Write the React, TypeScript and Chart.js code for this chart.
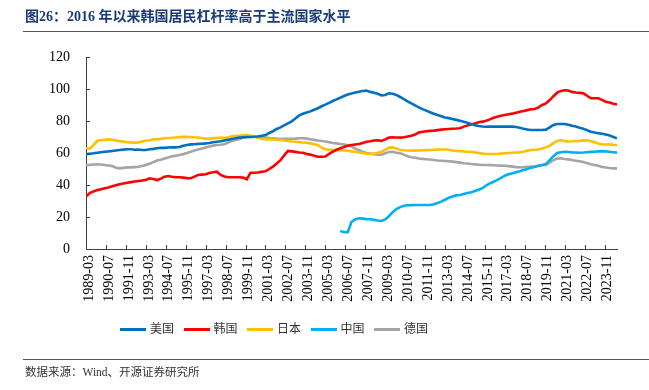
import React, { useEffect, useRef } from 'react';
import { Chart, registerables } from 'chart.js';

Chart.register(...registerables);

// ---------- data (quarterly, 1989-03 ... 2024-09) ----------
const MONTHS_PER_POINT = 3;
const MONTHS_PER_TICK = 16;
const X_MAX_MONTH = 426;

const xTickLabels = [
  '1989-03', '1990-07', '1991-11', '1993-03', '1994-07', '1995-11', '1997-03',
  '1998-07', '1999-11', '2001-03', '2002-07', '2003-11', '2005-03', '2006-07',
  '2007-11', '2009-03', '2010-07', '2011-11', '2013-03', '2014-07', '2015-11',
  '2017-03', '2018-07', '2019-11', '2021-03', '2022-07', '2023-11',
];

const yTickStep = 20;
const yMin = 0;
const yMax = 120;

const usa = [
  59.2, 59.5, 59.8, 60.2,
  60.5, 60.8, 61.0, 61.3,
  61.6, 61.9, 62.1, 62.3,
  62.3, 62.0, 62.2, 61.9,
  61.9, 62.3, 62.6, 63.0,
  63.3, 63.2, 63.4, 63.5,
  63.5, 63.8, 64.5, 65.0,
  65.4, 65.5, 65.7, 65.8,
  66.0, 66.3, 66.7, 67.0,
  67.3, 67.8, 68.3, 68.8,
  69.2, 69.6, 69.8, 70.0,
  70.0, 70.2, 70.3, 70.7,
  71.2, 72.5, 73.6, 75.0,
  76.0, 77.3, 78.5, 79.8,
  81.5, 83.5, 84.5, 85.3,
  86.0, 87.0, 88.0, 89.2,
  90.2, 91.3, 92.5, 93.5,
  94.5, 95.6, 96.5, 97.2,
  97.8, 98.3, 98.8, 99.0,
  98.2, 97.7, 97.0, 96.0,
  96.3, 97.3, 97.0, 96.3,
  95.0, 93.6, 92.2, 91.0,
  89.8, 88.5, 87.4, 86.5,
  85.5, 84.5, 83.8, 83.0,
  82.2, 81.8, 81.3, 80.7,
  80.2, 79.6, 78.9, 78.2,
  77.4, 76.9, 76.6, 76.4,
  76.5, 76.5, 76.5, 76.5,
  76.5, 76.5, 76.5, 76.2,
  75.8, 75.2, 74.7, 74.4,
  74.4, 74.4, 74.4, 74.6,
  76.0, 77.5, 78.1, 78.1,
  78.1, 77.6, 77.0, 76.5,
  75.8, 75.2, 74.3, 73.3,
  72.8, 72.4, 72.0, 71.6,
  71.0, 70.0, 69.2,
];

const korea = [
  32.7, 35.0, 36.0, 36.8,
  37.3, 37.9, 38.5, 39.2,
  39.8, 40.4, 41.0, 41.4,
  41.8, 42.2, 42.5, 42.8,
  43.2, 44.2, 43.8, 43.1,
  44.0, 45.2, 45.6, 45.2,
  44.9, 44.8, 44.6, 44.3,
  44.2, 45.2, 46.3, 46.5,
  46.7, 47.5, 48.0, 48.3,
  46.3, 45.3, 44.8, 44.8,
  44.8, 44.8, 44.6, 43.6,
  47.7, 47.7, 47.8, 48.3,
  48.6, 50.0, 51.5, 53.5,
  55.5, 58.5, 61.3, 61.0,
  60.7, 60.3, 60.2, 59.4,
  59.0, 58.3, 57.7, 57.7,
  57.8, 59.5, 60.8, 62.0,
  63.0, 63.8, 64.5, 65.0,
  65.3, 65.6, 66.3, 67.0,
  67.3, 67.8, 68.0, 67.6,
  68.5, 69.6, 69.8, 69.7,
  69.6, 69.8, 70.3, 70.8,
  71.5, 72.8, 73.3, 73.6,
  73.8, 74.0, 74.3, 74.6,
  74.8, 75.0, 75.2, 75.3,
  75.5, 76.5, 77.2, 77.8,
  78.5, 79.2, 79.6, 80.2,
  81.0, 82.0, 82.7, 83.3,
  83.8, 84.2, 84.6, 85.2,
  85.8, 86.3, 86.8, 87.3,
  87.5, 88.5, 90.0, 91.0,
  93.1, 95.5, 97.7, 98.8,
  99.2, 99.0, 98.2, 97.8,
  97.6, 97.3, 95.8, 94.2,
  94.2, 94.2, 93.2, 92.0,
  91.5, 90.8, 90.4,
];

const japan = [
  63.0, 62.7, 65.0, 67.5,
  68.1, 68.2, 68.5, 68.2,
  67.8, 67.4, 67.1, 66.8,
  66.6, 66.5, 66.6, 67.2,
  67.7, 68.0, 68.5, 68.6,
  68.8, 69.2, 69.4, 69.5,
  69.7, 69.9, 70.1, 70.2,
  70.0, 69.8, 69.7, 69.4,
  69.0, 68.8, 69.3, 69.4,
  69.6, 69.3, 69.8, 70.4,
  70.6, 70.8, 71.0, 71.2,
  70.8, 70.2, 69.6, 68.8,
  68.6, 68.5, 68.4, 68.3,
  68.1, 67.8, 67.5, 67.2,
  67.0, 66.8, 66.6, 66.4,
  66.0, 65.5, 65.0, 63.3,
  62.3, 62.1, 61.9, 61.8,
  61.7, 61.6, 61.4, 61.0,
  60.8, 60.3, 60.0, 59.6,
  59.4, 59.6, 60.2, 60.8,
  62.0, 63.2, 63.5, 62.8,
  62.0, 61.7, 61.6, 61.5,
  61.5, 61.6, 61.7, 61.8,
  61.9, 62.0, 62.1, 62.2,
  62.2, 62.0, 61.6, 61.3,
  61.1, 61.0, 60.8, 60.8,
  60.4, 60.0, 59.6, 59.4,
  59.4, 59.4, 59.4, 59.6,
  59.8, 60.0, 60.2, 60.3,
  60.4, 60.8, 61.5, 61.9,
  62.0, 62.2, 62.8, 63.5,
  64.5, 66.2, 67.5, 68.1,
  67.4, 67.2, 67.3, 67.5,
  67.6, 67.9, 68.0, 67.3,
  66.8, 66.0, 65.3, 65.3,
  65.4, 65.1, 65.0,
];

// China series begins in 2006-03 (quarter index 68)
const chinaStartQuarter = 68;
const china = [
  11.2, 10.5, 10.5, 17.0,
  18.5, 19.2, 19.0, 18.7,
  18.6, 18.2, 17.8, 17.5,
  18.5, 20.5, 23.0, 25.0,
  26.2, 27.0, 27.3, 27.4,
  27.5, 27.5, 27.5, 27.5,
  27.5, 28.0, 28.8, 29.6,
  30.8, 32.0, 32.8, 33.5,
  33.8, 34.4, 35.0, 35.5,
  36.2, 37.0, 38.0, 39.7,
  41.0, 42.0, 43.2, 44.5,
  45.8, 46.7, 47.3, 48.0,
  48.6, 49.3, 50.0, 50.8,
  51.3, 52.0, 52.5, 53.2,
  55.5, 58.0, 60.0, 60.5,
  60.8, 60.6, 60.4, 60.3,
  60.2, 60.3, 60.5, 60.7,
  60.8, 61.0, 61.2, 61.0,
  60.8, 60.5, 60.2,
];

const germany = [
  52.5, 52.6, 52.8, 52.9,
  52.8, 52.5, 52.2, 51.8,
  50.8, 50.4, 50.7, 51.0,
  51.0, 51.2, 51.4, 51.9,
  52.5, 53.3, 54.3, 55.3,
  55.8, 56.5, 57.2, 57.9,
  58.3, 58.8, 59.3, 60.0,
  60.8, 61.5, 62.2, 62.8,
  63.4, 64.0, 64.6, 65.0,
  65.2, 65.5, 66.5, 67.5,
  68.2, 68.8, 69.5, 69.8,
  70.0, 70.2, 70.3, 70.0,
  69.7, 69.4, 69.2, 69.0,
  68.9, 68.8, 68.8, 68.9,
  69.0, 69.2, 69.2, 69.0,
  68.6, 68.2, 67.8, 67.5,
  67.2, 66.8, 66.3, 66.0,
  65.6, 65.3, 64.8, 64.0,
  62.8, 61.8, 60.8, 60.0,
  59.6, 59.2, 58.9, 58.9,
  59.8, 60.6, 60.8, 60.2,
  59.9, 59.0, 58.0, 57.4,
  57.0, 56.6, 56.3, 56.1,
  55.9, 55.6, 55.3, 55.2,
  55.0, 54.8, 54.6, 54.3,
  54.0, 53.6, 53.4, 53.1,
  52.9, 52.7, 52.5, 52.5,
  52.4, 52.3, 52.2, 52.1,
  52.0, 51.8, 51.5, 51.2,
  51.1, 51.2, 51.4, 51.5,
  51.7, 52.0, 52.3, 52.5,
  54.0, 55.5, 56.5, 56.7,
  56.3, 56.0, 55.6, 55.2,
  54.8, 54.4, 53.8, 53.0,
  52.5, 52.0, 51.3, 50.9,
  50.6, 50.4, 50.4,
];

const seriesNames = ['美国', '韩国', '日本', '中国', '德国'];
const seriesColors = ['#0070C0', '#FF0000', '#FFC000', '#00B0F0', '#A5A5A5'];

const titleText = '图26：2016 年以来韩国居民杠杆率高于主流国家水平';
const sourceText = '数据来源：Wind、开源证券研究所';

// ---------- helpers ----------
const toPoints = (values: (number | null)[], startQuarter = 0) =>
  values.map((v, i) => ({ x: (startQuarter + i) * MONTHS_PER_POINT, y: v }));

const serifFont = '"Liberation Serif", "Times New Roman", serif';
const mixedFont = '"Liberation Serif", "Noto Sans CJK SC", serif';

const insideTicks = {
  id: 'insideTicks',
  afterDraw(chart: any) {
    const { ctx, scales } = chart;
    const x = scales.x;
    const y = scales.y;
    ctx.save();
    ctx.strokeStyle = '#404040';
    ctx.lineWidth = 1;
    ctx.beginPath();
    x.ticks.forEach((t: any) => {
      const px = Math.round(x.getPixelForValue(t.value)) + 0.5;
      ctx.moveTo(px, x.top);
      ctx.lineTo(px, x.top - 4);
    });
    y.ticks.forEach((t: any) => {
      const py = Math.round(y.getPixelForValue(t.value)) + 0.5;
      ctx.moveTo(y.right, py);
      ctx.lineTo(y.right + 4, py);
    });
    ctx.stroke();
    ctx.restore();
  },
};

export default function App() {
  const canvasRef = useRef<HTMLCanvasElement | null>(null);

  useEffect(() => {
    if (!canvasRef.current) return;
    const allSeries = [
      toPoints(usa),
      toPoints(korea),
      toPoints(japan),
      toPoints(china, chinaStartQuarter),
      toPoints(germany),
    ];
    const chart = new Chart(canvasRef.current, {
      type: 'line',
      data: {
        datasets: allSeries.map((pts, i) => ({
          label: seriesNames[i],
          data: pts,
          borderColor: seriesColors[i],
          backgroundColor: seriesColors[i],
          borderWidth: 2.6,
          pointRadius: 0,
          tension: 0,
          fill: false,
        })),
      },
      options: {
        responsive: false,
        animation: false,
        devicePixelRatio: 1,
        layout: { padding: { left: 0, right: 32, top: 57, bottom: 0 } },
        plugins: {
          legend: { display: false },
          tooltip: { enabled: false },
          title: { display: false },
        },
        scales: {
          x: {
            type: 'linear',
            min: 0,
            max: X_MAX_MONTH,
            afterBuildTicks: (scale: any) => {
              scale.ticks = xTickLabels.map((_, k) => ({ value: k * MONTHS_PER_TICK }));
            },
            afterFit: (scale: any) => {
              scale.height = 141;
            },
            grid: { display: false, drawTicks: false },
            border: { display: true, color: '#404040', width: 1 },
            ticks: {
              autoSkip: false,
              minRotation: 90,
              maxRotation: 90,
              padding: 6,
              labelOffset: 3,
              color: '#000',
              font: { family: serifFont, size: 14 },
              callback: (value: any) => xTickLabels[Math.round(Number(value) / MONTHS_PER_TICK)] ?? '',
            },
          },
          y: {
            min: yMin,
            max: yMax,
            afterFit: (scale: any) => {
              scale.width = 86;
            },
            grid: { display: false, drawTicks: false },
            border: { display: true, color: '#404040', width: 1 },
            ticks: {
              stepSize: yTickStep,
              padding: 16,
              color: '#000',
              font: { family: serifFont, size: 14 },
            },
          },
        },
      },
      plugins: [insideTicks],
    } as any);
    return () => chart.destroy();
  }, []);

  return (
    <div style={{ position: 'absolute', left: 0, top: 0, width: 649, height: 390, background: '#fff', overflow: 'hidden' }}>
      <canvas
        ref={canvasRef}
        width={649}
        height={390}
        style={{ position: 'absolute', left: 0, top: 0, width: 649, height: 390 }}
      />
      <div
        style={{
          position: 'absolute', left: 25, top: 7, fontFamily: mixedFont, fontWeight: 'bold',
          fontSize: 14, lineHeight: '20px', color: '#1B3A78', whiteSpace: 'nowrap',
        }}
      >
        {titleText}
      </div>
      <div style={{ position: 'absolute', left: 23, top: 31, width: 626, height: 1, background: '#555' }} />
      <div
        style={{
          position: 'absolute', left: 120, top: 321, height: 16, display: 'flex', alignItems: 'center',
          fontFamily: mixedFont, fontSize: 12, color: '#333', whiteSpace: 'nowrap',
        }}
      >
        {seriesNames.map((name, i) => (
          <div key={name} style={{ display: 'flex', alignItems: 'center', marginRight: 9.5 }}>
            <span style={{ display: 'inline-block', width: 26, height: 3, background: seriesColors[i] }} />
            <span style={{ marginLeft: 4, lineHeight: '16px' }}>{name}</span>
          </div>
        ))}
      </div>
      <div style={{ position: 'absolute', left: 23, top: 359, width: 626, height: 1, background: '#555' }} />
      <div
        style={{
          position: 'absolute', left: 25, top: 364, fontFamily: mixedFont, fontSize: 11.5,
          lineHeight: '16px', color: '#333', whiteSpace: 'nowrap',
        }}
      >
        {sourceText}
      </div>
    </div>
  );
}
